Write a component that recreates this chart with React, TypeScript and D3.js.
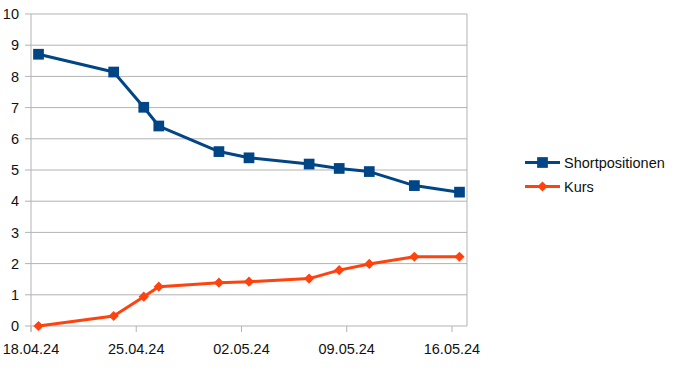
import React, { useEffect, useRef } from "react";
import * as d3 from "d3";

// dates of the observations (dd.mm.yy)
const dates = ["18.04.24", "23.04.24", "25.04.24", "26.04.24", "30.04.24", "02.05.24", "06.05.24", "08.05.24", "10.05.24", "13.05.24", "16.05.24"];
const shortpositionen = [8.71, 8.14, 7.01, 6.41, 5.59, 5.39, 5.19, 5.05, 4.95, 4.5, 4.29];
const kurs = [0, 0.32, 0.94, 1.26, 1.39, 1.42, 1.52, 1.79, 1.99, 2.22, 2.22];
const tickLabels = ["18.04.24", "25.04.24", "02.05.24", "09.05.24", "16.05.24"];
const yTicks = [0, 1, 2, 3, 4, 5, 6, 7, 8, 9, 10];

const W = 675;
const H = 370;
const FONT = "'Liberation Sans', Arial, sans-serif";

const parse = d3.timeParse("%d.%m.%y");

export default function App() {
  const ref = useRef<SVGSVGElement>(null);

  useEffect(() => {
    const svg = d3.select(ref.current);
    svg.selectAll("*").remove();

    const left = 31, right = 467, top = 14, bottom = 326;

    const start = parse(dates[0])!;
    const end = d3.timeDay.offset(parse(dates[dates.length - 1])!, 1);
    const x = d3.scaleTime().domain([start, end]).range([left, right]);
    const y = d3.scaleLinear().domain([0, 10]).range([bottom, top]);

    // points sit in the middle of their day
    const xPos = (s: string) => x(d3.timeHour.offset(parse(s)!, 12));

    // grid
    svg.append("g")
      .selectAll("line")
      .data(yTicks)
      .join("line")
      .attr("x1", left - 6)
      .attr("x2", right)
      .attr("y1", (d) => y(d))
      .attr("y2", (d) => y(d))
      .attr("stroke", "#b3b3b3")
      .attr("stroke-width", 1);

    // frame
    svg.append("line").attr("x1", left).attr("x2", left).attr("y1", top).attr("y2", bottom + 6)
      .attr("stroke", "#b3b3b3");
    svg.append("line").attr("x1", right).attr("x2", right).attr("y1", top).attr("y2", bottom)
      .attr("stroke", "#b3b3b3");

    // x ticks
    svg.append("g")
      .selectAll("line")
      .data(tickLabels)
      .join("line")
      .attr("x1", (d) => x(parse(d)!))
      .attr("x2", (d) => x(parse(d)!))
      .attr("y1", bottom)
      .attr("y2", bottom + 6)
      .attr("stroke", "#b3b3b3");

    svg.append("g")
      .selectAll("text")
      .data(tickLabels)
      .join("text")
      .attr("x", (d) => x(parse(d)!))
      .attr("y", bottom + 28)
      .attr("text-anchor", "middle")
      .attr("font-family", FONT)
      .attr("font-size", 14.5)
      .attr("fill", "#111")
      .text((d) => d);

    svg.append("g")
      .selectAll("text")
      .data(yTicks)
      .join("text")
      .attr("x", 19)
      .attr("y", (d) => y(d))
      .attr("dy", "0.36em")
      .attr("text-anchor", "end")
      .attr("font-family", FONT)
      .attr("font-size", 14.5)
      .attr("fill", "#111")
      .text((d) => d);

    const series = [
      { name: "Shortpositionen", values: shortpositionen, color: "#004586", size: 115, rot: 0 },
      { name: "Kurs", values: kurs, color: "#ff420e", size: 52, rot: 45 },
    ];

    const line = d3.line<number>()
      .x((_, i) => xPos(dates[i]))
      .y((d) => y(d));

    series.forEach((s, k) => {
      const marker = d3.symbol().type(d3.symbolSquare).size(s.size)();

      svg.append("path")
        .datum(s.values)
        .attr("d", line)
        .attr("fill", "none")
        .attr("stroke", s.color)
        .attr("stroke-width", 3)
        .attr("stroke-linejoin", "round");

      svg.append("g")
        .selectAll("path")
        .data(s.values)
        .join("path")
        .attr("transform", (d, i) => `translate(${xPos(dates[i])},${y(d)}) rotate(${s.rot})`)
        .attr("d", marker)
        .attr("fill", s.color);

      // legend
      const ly = 162.5 + k * 24;
      const lg = svg.append("g");
      lg.append("line")
        .attr("x1", 525).attr("x2", 560).attr("y1", ly).attr("y2", ly)
        .attr("stroke", s.color).attr("stroke-width", 3);
      lg.append("path")
        .attr("transform", `translate(542.5,${ly}) rotate(${s.rot})`)
        .attr("d", marker)
        .attr("fill", s.color);
      lg.append("text")
        .attr("x", 564)
        .attr("y", ly)
        .attr("dy", "0.36em")
        .attr("font-family", FONT)
        .attr("font-size", 14.5)
        .attr("fill", "#111")
        .text(s.name);
    });
  }, []);

  return (
    <svg
      ref={ref}
      width={W}
      height={H}
      style={{ position: "absolute", left: 0, top: 0, background: "#fff" }}
    />
  );
}
